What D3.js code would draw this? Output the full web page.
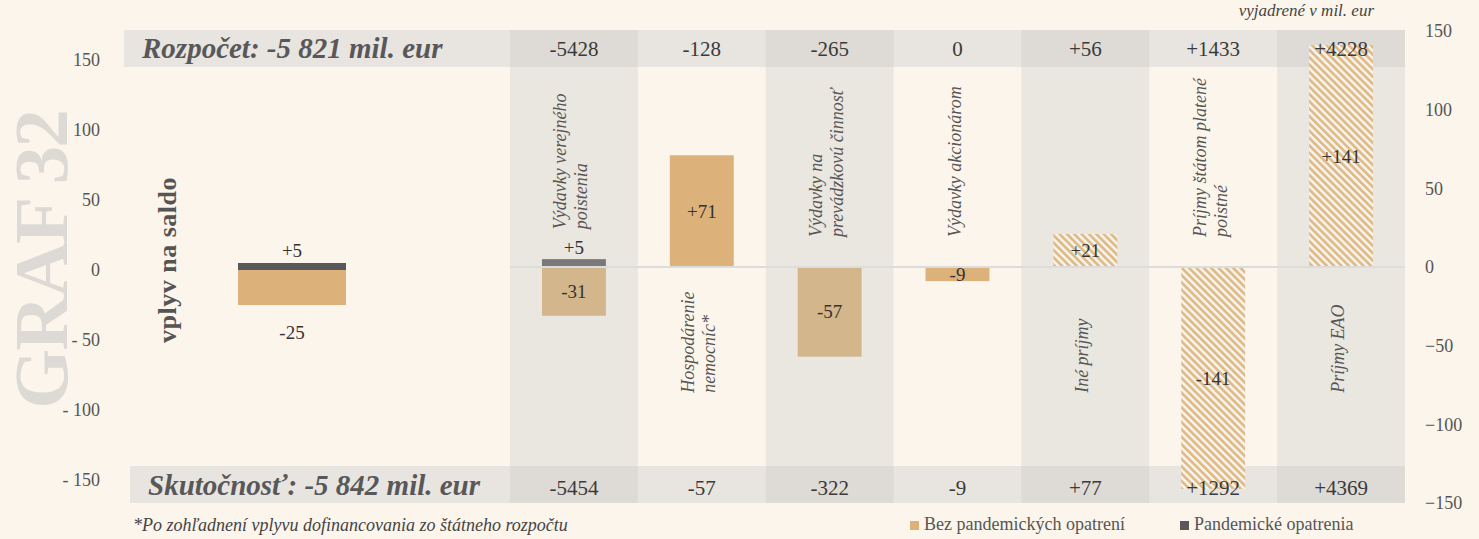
<!DOCTYPE html>
<html>
<head>
<meta charset="utf-8">
<script src="https://cdn.jsdelivr.net/npm/d3@7"></script>
<style>
  body { margin: 0; background: #fcf5ec; }
  svg { display: block; font-family: "Liberation Serif", "Times New Roman", serif; }
</style>
</head>
<body>
<script>
// data
var kategorie = [
  ["Výdavky verejného", "poistenia"],
  ["Hospodárenie", "nemocníc*"],
  ["Výdavky na", "prevádzkovú činnosť"],
  ["Výdavky akcionárom"],
  ["Iné príjmy"],
  ["Príjmy štátom platené", "poistné"],
  ["Príjmy EAO"]
];
var rozpocet = [-5428, -128, -265, 0, 56, 1433, 4228];
var skutocnost = [-5454, -57, -322, -9, 77, 1292, 4369];
var bezPandemickych = [-31, 71, -57, -9, 0, 0, 0];
var pandemicke = [5, 0, 0, 0, 0, 0, 0];
var bezVplyvu = [0, 0, 0, 0, 21, -141, 141];
var saldoBez = -25, saldoPandemicke = 5;
var osTicks = [-150, -100, -50, 0, 50, 100, 150];

var width = 1479, height = 539;
var cTan = "#dcb27a", cTanShade = "#d4b68c", cGrey = "#58585a", cGreyShade = "#79797b";

var svg = d3.select("body").append("svg")
    .attr("width", width)
    .attr("height", height);

var defs = svg.append("defs");
var pat = defs.append("pattern")
    .attr("id", "hatch")
    .attr("patternUnits", "userSpaceOnUse")
    .attr("width", 5.2).attr("height", 5.2)
    .attr("patternTransform", "rotate(-45)");
pat.append("rect").attr("width", 5.2).attr("height", 5.2).attr("fill", "#f7f3ee");
pat.append("rect").attr("width", 2.7).attr("height", 5.2).attr("fill", "#dfbb87");

svg.append("rect").attr("width", width).attr("height", height).attr("fill", "#fcf5ec");

// scales
var yL = d3.scaleLinear().domain([-150, 150]).range([480, 60]);
var yR = d3.scaleLinear().domain([-150, 150]).range([503, 31]);
var x = d3.scaleBand().domain(d3.range(kategorie.length)).range([510, 1405]).padding(0);
var bw = x.bandwidth() / 2;
var shaded = function(i) { return i % 2 === 0; };
var fmt = function(v) { return v > 0 ? "+" + v : "" + v; };

// big title
svg.append("text")
    .attr("transform", "translate(67,260) rotate(-90)")
    .attr("text-anchor", "middle")
    .style("font-size", "77px").style("font-weight", "bold").style("letter-spacing", "-2px")
    .attr("fill", "#dddad6")
    .text("GRAF 32");

// bands
var topBand = [30, 67], botBand = [466, 503];
svg.append("rect").attr("x", 124).attr("y", topBand[0]).attr("width", 1405 - 124)
    .attr("height", topBand[1] - topBand[0]).attr("fill", "#e8e4df");
svg.append("rect").attr("x", 130).attr("y", botBand[0]).attr("width", 1405 - 130)
    .attr("height", botBand[1] - botBand[0]).attr("fill", "#e8e4df");

var cols = svg.append("g").selectAll("g")
    .data(kategorie.map(function(d, i) { return i; }).filter(shaded))
    .enter().append("g");
cols.append("rect")
    .attr("x", function(i) { return x(i); }).attr("y", topBand[1])
    .attr("width", x.bandwidth()).attr("height", botBand[0] - topBand[1])
    .attr("fill", "#eae6e0");
cols.append("rect")
    .attr("x", function(i) { return x(i); }).attr("y", topBand[0])
    .attr("width", x.bandwidth()).attr("height", topBand[1] - topBand[0])
    .attr("fill", "#dedbd7");
cols.append("rect")
    .attr("x", function(i) { return x(i); }).attr("y", botBand[0])
    .attr("width", x.bandwidth()).attr("height", botBand[1] - botBand[0])
    .attr("fill", "#dedbd7");

// headlines
svg.append("text").attr("x", 142).attr("y", 58)
    .style("font-size", "29px").style("font-weight", "bold").style("font-style", "italic")
    .attr("fill", "#58585a").text("Rozpočet: -5 821 mil. eur");
svg.append("text").attr("x", 148).attr("y", 495)
    .style("font-size", "29px").style("font-weight", "bold").style("font-style", "italic")
    .attr("fill", "#58585a").text("Skutočnosť: -5 842 mil. eur");

// axes
var axL = svg.append("g").attr("transform", "translate(104,0)")
    .call(d3.axisLeft(yL).tickValues(osTicks).tickSize(0).tickPadding(4)
      .tickFormat(function(d) { return d < 0 ? "- " + Math.abs(d) : d; }));
var axR = svg.append("g").attr("transform", "translate(1421,0)")
    .call(d3.axisRight(yR).tickValues(osTicks).tickSize(0).tickPadding(4));
[axL, axR].forEach(function(a) {
  a.select(".domain").remove();
  a.selectAll("text").style("font-size", "18px").attr("fill", "#555")
    .style("font-family", "Liberation Serif");
});

svg.append("text")
    .attr("transform", "translate(176,260) rotate(-90)")
    .attr("text-anchor", "middle")
    .style("font-size", "26px").style("font-weight", "bold").style("letter-spacing", "0.5px")
    .attr("fill", "#555").text("vplyv na saldo");

// summary bar (left)
var sx = 238, sw = 108;
svg.append("rect").attr("x", sx).attr("y", yL(0)).attr("width", sw)
    .attr("height", yL(saldoBez) - yL(0)).attr("fill", cTan);
svg.append("rect").attr("x", sx).attr("y", yL(saldoPandemicke)).attr("width", sw)
    .attr("height", yL(0) - yL(saldoPandemicke)).attr("fill", cGrey);
svg.append("text").attr("x", sx + sw / 2).attr("y", yL(saldoPandemicke) - 6)
    .attr("text-anchor", "middle").style("font-size", "19px").attr("fill", "#333")
    .text(fmt(saldoPandemicke));
svg.append("text").attr("x", sx + sw / 2).attr("y", yL(saldoBez) + 34)
    .attr("text-anchor", "middle").style("font-size", "19px").attr("fill", "#333")
    .text(fmt(saldoBez));

// column bars
var bars = svg.append("g");
var bx = function(i) { return x(i) + (x.bandwidth() - bw) / 2; };
function barRect(v, i, fill) {
  bars.append("rect").attr("x", bx(i)).attr("y", Math.min(yR(0), yR(v)))
    .attr("width", bw).attr("height", Math.abs(yR(v) - yR(0))).attr("fill", fill);
}
kategorie.forEach(function(k, i) {
  if (bezVplyvu[i]) barRect(bezVplyvu[i], i, "url(#hatch)");
  if (bezPandemickych[i]) barRect(bezPandemickych[i], i, shaded(i) ? cTanShade : cTan);
  if (pandemicke[i]) barRect(pandemicke[i], i, shaded(i) ? cGreyShade : cGrey);
});

// zero line
svg.append("line").attr("x1", 510).attr("x2", 1405)
    .attr("y1", yR(0)).attr("y2", yR(0))
    .attr("stroke", "#dcdcdc").attr("stroke-width", 2);

// bar labels
var lab = svg.append("g").attr("text-anchor", "middle")
    .style("font-size", "19px").attr("fill", "#333");
kategorie.forEach(function(k, i) {
  var cx = x(i) + x.bandwidth() / 2;
  [bezPandemickych[i], bezVplyvu[i]].forEach(function(v) {
    if (!v) return;
    lab.append("text").attr("x", cx).attr("y", (yR(v) + yR(0)) / 2)
      .attr("dy", "0.35em").text(fmt(v));
  });
  if (pandemicke[i]) {
    lab.append("text").attr("x", cx).attr("y", yR(pandemicke[i]) - 5).text(fmt(pandemicke[i]));
  }
});

// category labels
kategorie.forEach(function(lines, i) {
  var cx = x(i) + x.bandwidth() / 2;
  var sum = bezPandemickych[i] + pandemicke[i] + bezVplyvu[i];
  var y0 = sum > 0 ? yR(-80) : yR(Math.max(0, pandemicke[i]) + 19);
  var t = svg.append("text")
    .attr("transform", "translate(" + cx + "," + y0 + ") rotate(-90)")
    .style("font-size", "18px").style("font-style", "italic").attr("fill", "#555");
  lines.forEach(function(l, j) {
    t.append("tspan").attr("x", 0)
      .attr("y", (j - (lines.length - 1) / 2) * 21 + 3)
      .text(l);
  });
});

// band values
var bandVals = svg.append("g").attr("text-anchor", "middle").style("font-size", "21px").attr("fill", "#3a3a3a");
bandVals.selectAll("text.r").data(rozpocet).enter().append("text").attr("class", "r")
    .attr("x", function(d, i) { return x(i) + x.bandwidth() / 2; })
    .attr("y", 49).attr("dy", "0.35em").text(fmt);
bandVals.selectAll("text.s").data(skutocnost).enter().append("text").attr("class", "s")
    .attr("x", function(d, i) { return x(i) + x.bandwidth() / 2; })
    .attr("y", 488).attr("dy", "0.35em").text(fmt);

// notes
svg.append("text").attr("x", 1374).attr("y", 16).attr("text-anchor", "end")
    .style("font-size", "17px").style("font-style", "italic").attr("fill", "#444")
    .text("vyjadrené v mil. eur");
svg.append("text").attr("x", 133).attr("y", 531)
    .style("font-size", "18px").style("font-style", "italic").attr("fill", "#444")
    .text("*Po zohľadnení vplyvu dofinancovania zo štátneho rozpočtu");

// legend
var leg = [["Bez pandemických opatrení", cTan, 910], ["Pandemické opatrenia", cGrey, 1180]];
leg.forEach(function(l) {
  svg.append("rect").attr("x", l[2]).attr("y", 521).attr("width", 9).attr("height", 9).attr("fill", l[1]);
  svg.append("text").attr("x", l[2] + 14).attr("y", 530)
    .style("font-size", "18px").attr("fill", "#555").text(l[0]);
});
</script>
</body>
</html>
